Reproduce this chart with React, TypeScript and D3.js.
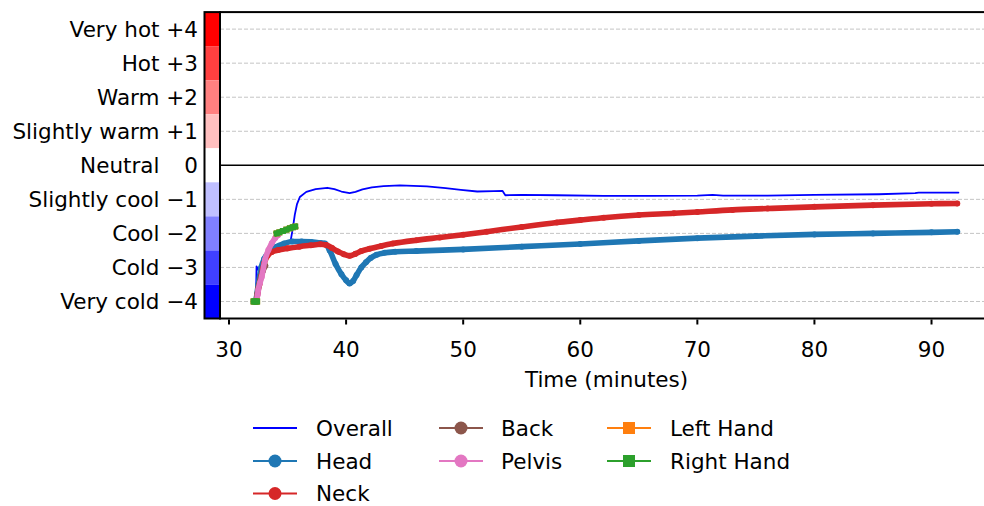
import React from 'react';
import * as d3 from 'd3';

const W = 984;
const H = 506;

// Comfort scale (y axis)
const comfortLevels = [4, 3, 2, 1, 0, -1, -2, -3, -4];
const comfortNames = ['Very hot', 'Hot', 'Warm', 'Slightly warm', 'Neutral', 'Slightly cool', 'Cool', 'Cold', 'Very cold'];
const comfortValueLabels = ['+4', '+3', '+2', '+1', '0', '\u22121', '\u22122', '\u22123', '\u22124'];
const comfortColors = ['#ff0000', '#ff4040', '#ff8080', '#ffbfbf', '#ffffff', '#bfbfff', '#8080ff', '#4040ff', '#0000ff'];
const xTicks = [30, 40, 50, 60, 70, 80, 90];

// Overall
const overallT = [32.3, 32.35, 32.5, 32.8, 33.1, 33.4, 33.9, 34.6, 35.25, 35.45, 35.62, 35.8, 36.05, 36.6, 37.4, 38.4, 39.0, 39.6, 40.3, 40.8, 41.4, 42.2, 43.2, 44.6, 46.9, 48.5, 49.8, 51.2, 52.6, 53.35, 53.6, 55, 58, 62, 66, 70, 71.3, 72.2, 76, 80, 85.5, 88.6, 88.9, 92.3];
const overallV = [-4.0, -2.97, -3.07, -2.85, -2.7, -2.57, -2.42, -2.3, -2.24, -1.85, -1.45, -1.15, -0.93, -0.78, -0.7, -0.66, -0.7, -0.77, -0.82, -0.78, -0.71, -0.65, -0.61, -0.59, -0.62, -0.67, -0.72, -0.77, -0.76, -0.75, -0.88, -0.87, -0.88, -0.9, -0.9, -0.89, -0.87, -0.89, -0.89, -0.87, -0.85, -0.82, -0.8, -0.8];

// Head
const headT = [32.3, 32.5, 32.75, 33.0, 33.4, 34.0, 34.7, 35.4, 36.2, 37.0, 37.8, 38.2, 38.6, 39.1, 39.6, 40.0, 40.3, 40.6, 40.9, 41.3, 41.7, 42.1, 42.6, 43.3, 44.2, 46, 50, 55, 60, 65, 70, 75, 80, 85, 90, 92.2];
const headV = [-4.0, -3.5, -3.0, -2.75, -2.55, -2.4, -2.3, -2.24, -2.24, -2.25, -2.28, -2.3, -2.5, -2.9, -3.2, -3.38, -3.47, -3.4, -3.22, -3.0, -2.85, -2.72, -2.63, -2.57, -2.54, -2.52, -2.47, -2.39, -2.31, -2.22, -2.14, -2.08, -2.03, -2.0, -1.97, -1.95];

// Neck
const neckT = [32.35, 32.45, 32.6, 32.75, 33.0, 33.3, 33.65, 34.2, 35.0, 36.0, 37.0, 37.8, 38.3, 38.8, 39.3, 39.8, 40.3, 40.8, 41.3, 42.0, 43, 44, 46, 48, 50, 52, 55, 58, 60, 62, 65, 68, 70, 73, 76, 80, 85, 90, 92.2];
const neckV = [-4.0, -3.75, -3.5, -3.25, -2.88, -2.65, -2.55, -2.49, -2.44, -2.39, -2.35, -2.32, -2.34, -2.43, -2.53, -2.61, -2.66, -2.6, -2.52, -2.45, -2.37, -2.3, -2.2, -2.12, -2.04, -1.95, -1.81, -1.68, -1.61, -1.54, -1.46, -1.41, -1.37, -1.31, -1.27, -1.22, -1.17, -1.13, -1.12];

// Back
const backT = [32.3, 32.5, 32.7, 32.9, 33.1];
const backV = [-4.0, -3.6, -3.3, -3.1, -2.95];

// Pelvis
const pelvisT = [32.3, 32.45, 32.5, 32.65, 32.8, 33.07, 33.36, 33.65, 33.93, 34.2];
const pelvisV = [-4.0, -3.8, -3.66, -3.45, -3.27, -2.78, -2.49, -2.29, -2.14, -2.05];

// Left hand / Right hand (NaN marks a gap in the record)
const leftHandT = [32.1, 32.2, 32.3, 32.4, 33.2, 34.07, 34.3, 34.6, 34.9, 35.2, 35.45, 35.65];
const leftHandV = [-4.0, -4.0, -4.0, -4.0, NaN, -2.0, -1.97, -1.93, -1.89, -1.85, -1.82, -1.8];
const rightHandT = [32.1, 32.2, 32.3, 32.4, 33.2, 34.07, 34.3, 34.6, 34.9, 35.2, 35.45, 35.65];
const rightHandV = [-4.0, -4.0, -4.0, -4.0, NaN, -2.0, -1.97, -1.93, -1.89, -1.85, -1.82, -1.8];

type Series = {
  name: string;
  t: number[];
  v: number[];
  color: string;
  marker: 'none' | 'circle' | 'square';
};

const series: Series[] = [
  { name: 'Overall', t: overallT, v: overallV, color: '#0000ff', marker: 'none' },
  { name: 'Head', t: headT, v: headV, color: '#1f77b4', marker: 'circle' },
  { name: 'Neck', t: neckT, v: neckV, color: '#d62728', marker: 'circle' },
  { name: 'Back', t: backT, v: backV, color: '#8c564b', marker: 'circle' },
  { name: 'Pelvis', t: pelvisT, v: pelvisV, color: '#e377c2', marker: 'circle' },
  { name: 'Left Hand', t: leftHandT, v: leftHandV, color: '#ff7f0e', marker: 'square' },
  { name: 'Right Hand', t: rightHandT, v: rightHandV, color: '#2ca02c', marker: 'square' },
];

const FONT = 'DejaVu Sans, sans-serif';
const FS = 21.5;

export default function App() {
  const left = 220;
  const top = 12.1;
  const bottom = 318.5;
  const right = 993.1;
  const x = d3.scaleLinear().domain([29.23, 95.26]).range([left, right]);
  const y = d3.scaleLinear().domain([-4.5, 4.5]).range([bottom, top]);
  const cbLeft = 204.5;

  const plusW = FS * 1.474;
  const spaceW = FS * 0.318;
  const valueRight = 198;
  const nameRight = valueRight - plusW - spaceW;

  const legendCols = [
    { hx: 253, tx: 316 },
    { hx: 439, tx: 501 },
    { hx: 607, tx: 670 },
  ];
  const legendRows = [428, 461, 493.5];
  const legendPos = [
    [0, 0], [0, 1], [0, 2], [1, 0], [1, 1], [2, 0], [2, 1],
  ];

  return (
    <svg width={W} height={H} style={{ position: 'absolute', left: 0, top: 0, background: '#fff' }} fontFamily={FONT}>
      <defs>
        <clipPath id="plotclip">
          <rect x={left} y={top} width={right - left} height={bottom - top} />
        </clipPath>
      </defs>
      <rect x={0} y={0} width={W} height={H} fill="#fff" />

      {/* grid */}
      {comfortLevels.filter((l) => l !== 0).map((l) => (
        <line key={'g' + l} x1={left} x2={right} y1={y(l)} y2={y(l)} stroke="#c4c4c4" strokeWidth={1} strokeDasharray="4,2" />
      ))}
      <line x1={left} x2={right} y1={y(0)} y2={y(0)} stroke="#000" strokeWidth={1.6} />

      {/* series */}
      <g clipPath="url(#plotclip)">
        {series.map((s) => {
          const pts: [number, number][] = s.t.map((t, i) => [t, s.v[i]]);
          const isBand = s.marker !== 'none';
          const line = d3
            .line<[number, number]>()
            .defined((d) => !isNaN(d[1]))
            .x((d) => x(d[0]))
            .y((d) => y(d[1]))
            .curve(isBand ? d3.curveMonotoneX : d3.curveLinear);
          return (
            <g key={s.name}>
              <path
                d={line(pts) || ''}
                fill="none"
                stroke={s.color}
                strokeWidth={isBand ? 5.6 : 1.8}
                strokeLinecap={s.marker === 'square' ? 'square' : 'round'}
                strokeLinejoin="round"
              />
              {s.marker === 'circle' &&
                pts.filter((d) => !isNaN(d[1])).map((d, i) => (
                  <circle key={i} cx={x(d[0])} cy={y(d[1])} r={3} fill={s.color} />
                ))}
              {s.marker === 'square' &&
                pts.filter((d) => !isNaN(d[1])).map((d, i) => (
                  <rect key={i} x={x(d[0]) - 3} y={y(d[1]) - 3} width={6} height={6} fill={s.color} />
                ))}
            </g>
          );
        })}
      </g>

      {/* colour bar */}
      {comfortLevels.map((l, i) => (
        <rect key={'cb' + l} x={cbLeft} y={y(l + 0.5)} width={left - cbLeft} height={y(l - 0.5) - y(l + 0.5)} fill={comfortColors[i]} />
      ))}
      <rect x={cbLeft} y={top} width={left - cbLeft} height={bottom - top} fill="none" stroke="#000" strokeWidth={2} />

      {/* spines */}
      <rect x={left} y={top} width={right - left} height={bottom - top} fill="none" stroke="#000" strokeWidth={2} />

      {/* y labels */}
      {comfortLevels.map((l, i) => (
        <g key={'yl' + l} fontSize={FS} fill="#000">
          <text x={nameRight} y={y(l)} dy={7.6} textAnchor="end">{comfortNames[i]}</text>
          <text x={valueRight} y={y(l)} dy={7.6} textAnchor="end">{comfortValueLabels[i]}</text>
        </g>
      ))}

      {/* x axis ticks */}
      {xTicks.map((t) => (
        <g key={'xt' + t}>
          <line x1={x(t)} x2={x(t)} y1={bottom + 1} y2={bottom + 6} stroke="#000" strokeWidth={2} />
          <text x={x(t)} y={357} textAnchor="middle" fontSize={FS} fill="#000">{t}</text>
        </g>
      ))}
      <text x={(left + right) / 2} y={387} textAnchor="middle" fontSize={FS} fill="#000">Time (minutes)</text>

      {/* legend */}
      {series.map((s, i) => {
        const [c, r] = legendPos[i];
        const col = legendCols[c];
        const cy = legendRows[r];
        const cx = col.hx + 22;
        return (
          <g key={'lg' + s.name}>
            <line x1={col.hx} x2={col.hx + 44} y1={cy} y2={cy} stroke={s.color} strokeWidth={2} />
            {s.marker === 'circle' && <circle cx={cx} cy={cy} r={6.5} fill={s.color} />}
            {s.marker === 'square' && <rect x={cx - 6} y={cy - 6} width={12} height={12} fill={s.color} />}
            <text x={col.tx} y={cy} dy={7.6} fontSize={FS} fill="#000">{s.name}</text>
          </g>
        );
      })}
    </svg>
  );
}
